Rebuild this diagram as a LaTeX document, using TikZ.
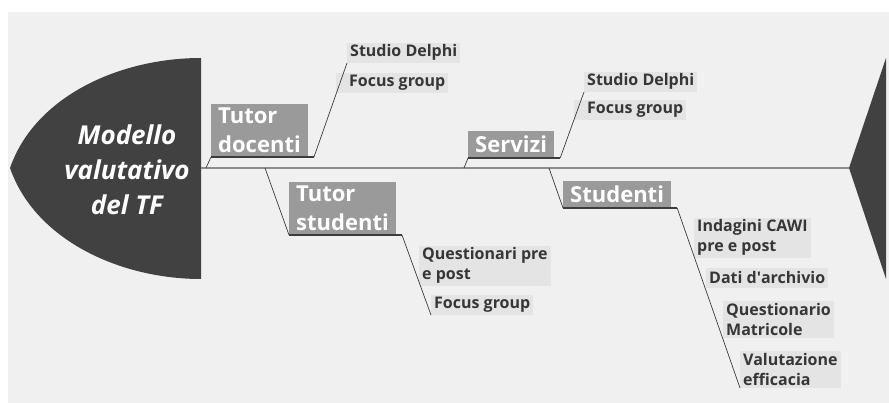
\documentclass[tikz,border=0pt]{standalone}
\usepackage{fontspec}
\setmainfont{Open Sans}
\usetikzlibrary{positioning}

\definecolor{bggray}{HTML}{F0F0F0}
\definecolor{headgray}{HTML}{414141}
\definecolor{causegray}{HTML}{9A9A9A}
\definecolor{itemgray}{HTML}{E4E4E4}
\definecolor{itemtext}{HTML}{363636}
\definecolor{twigcol}{HTML}{3C3C3C}
\definecolor{spinecol}{HTML}{8C8C8C}

\begin{document}
\begin{tikzpicture}[
    x=1pt, y=-1pt,
    cause/.style={
        fill=causegray, text=white,
        font=\bfseries\fontsize{22}{29}\selectfont,
        align=left, anchor=south west,
        inner xsep=7pt, inner ysep=4pt,
        minimum height=27pt
    },
    item/.style={
        fill=itemgray, text=itemtext,
        font=\bfseries\fontsize{16}{20}\selectfont,
        align=left, anchor=south west,
        inner xsep=3pt, inner ysep=2pt,
        minimum height=20pt
    },
    twig/.style={draw=twigcol, line width=0.7pt},
    rib/.style={draw=twigcol, line width=1.6pt},
    spine/.style={draw=spinecol, line width=1.4pt}
]
\useasboundingbox (0,0) rectangle (889,403);
\fill[bggray] (8,12) rectangle (889,403);

% head and tail
\fill[headgray] (201,58) -- (201,279)
    .. controls (120,279) and (35,240) .. (10,168)
    .. controls (35,96) and (120,58) .. (201,58) -- cycle;
\fill[headgray] (886,58) -- (849,168) -- (886,279) -- cycle;
\node[text=white, align=center,
      font=\bfseries\itshape\fontsize{26}{35}\selectfont] (head) at (127,170)
    {Modello\\valutativo\\del TF};

\coordinate (spine-l) at (201,168);
\coordinate (spine-r) at (849,168);
\draw[spine] (spine-l) -- (spine-r);

% causes
\node[cause] (td) at (211,157) {Tutor\\docenti};
\node[cause] (sv) at (468,158) {Servizi};
\node[cause] (ts) at (289,235) {Tutor\\studenti};
\node[cause] (st) at (563,208) {Studenti};

\coordinate (td-root) at (206,168);
\coordinate (sv-root) at (464,168);
\coordinate (ts-root) at (265,168);
\coordinate (st-root) at (549,168);

% sub-items
\node[item] (td1) at (347,63) {Studio Delphi};
\node[item] (td2) at (336,93) {\hspace*{10pt}Focus group};
\node[item] (sv1) at (584,92) {Studio Delphi};
\node[item] (sv2) at (574,120) {\hspace*{10pt}Focus group};
\node[item] (ts1) at (419,286) {Questionari pre\\e post};
\node[item] (ts2) at (431,315) {Focus group};
\node[item] (st1) at (694,258) {Indagini CAWI\\pre e post};
\node[item] (st2) at (706,288) {Dati d\textquotesingle archivio};
\node[item] (st3) at (723,338) {Questionario\\Matricole};
\node[item] (st4) at (740,388) {Valutazione\\efficacia};

% ribs
\foreach \c/\e in {td/td1, sv/sv1, ts/ts2, st/st4}{
    \draw[twig] (\c-root) -- (\c.south west);
    \draw[rib] (\c.south west) -- ([xshift=6pt]\c.south east);
    \draw[twig] ([xshift=6pt]\c.south east) -- (\e.south west);
}
\end{tikzpicture}
\end{document}
